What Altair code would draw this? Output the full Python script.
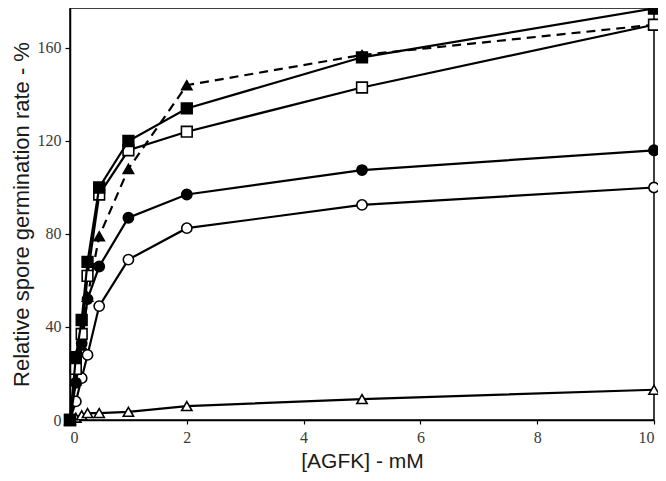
import altair as alt
import pandas as pd

# Concentrations (mM)
conc = [0, 0.1, 0.2, 0.3, 0.5, 1, 2, 5, 10]

# Relative spore germination rate (%) per series
filled_square = [0, 27, 43, 68, 100, 120, 134, 156, 177]
open_square = [0, 22, 37, 62, 97, 116, 124, 143, 170]
filled_triangle = [0, 17, 32, 53, 79, 108, 144, 157, 170]
filled_circle = [0, 16, 33, 52, 66, 87, 97, 107.5, 116]
open_circle = [0, 8, 18, 28, 49, 69, 82.5, 92.5, 100]
open_triangle = [0, 1, 2, 3, 3, 3.5, 6, 9, 13]

# drawing order: dashed series underneath
series = [
    ("filled_triangle", filled_triangle, "triangle-up", "black", [9, 6]),
    ("open_triangle", open_triangle, "triangle-up", "white", []),
    ("open_circle", open_circle, "circle", "white", []),
    ("filled_circle", filled_circle, "circle", "black", []),
    ("open_square", open_square, "square", "white", []),
    ("filled_square", filled_square, "square", "black", []),
]

xscale = alt.Scale(domain=[0, 10], nice=False, zero=False)
yscale = alt.Scale(domain=[0, 177.2], nice=False)

xaxis = alt.Axis(values=[0, 2, 4, 6, 8, 10], title="[AGFK] - mM", grid=False)
yaxis = alt.Axis(values=[0, 40, 80, 120, 160], title="Relative spore germination rate - %", grid=False)

layers = []
for name, vals, shape, fill, dash in series:
    df = pd.DataFrame({"x": conc, "y": vals})
    base = alt.Chart(df).encode(
        x=alt.X("x:Q", scale=xscale, axis=xaxis),
        y=alt.Y("y:Q", scale=yscale, axis=yaxis),
    )
    line_kwargs = dict(color="black", strokeWidth=2.2)
    if dash:
        line_kwargs["strokeDash"] = dash
    layers.append(base.mark_line(**line_kwargs))
    size = 115 if shape == "square" else 105
    layers.append(
        base.mark_point(shape=shape, filled=True, fill=fill, stroke="black",
                        strokeWidth=1.6, size=size, opacity=1)
    )

chart = alt.layer(*layers).properties(
    width=584,
    height=412,
    autosize=alt.AutoSizeParams(type="none"),
    padding={"left": 62, "top": 0, "right": 4, "bottom": 53},
).configure_view(
    stroke="black", strokeWidth=1.5
).configure_axis(
    domainColor="black",
    domainWidth=1.5,
    tickColor="black",
    tickWidth=1.2,
    labelFont="Liberation Serif",
    labelFontSize=16,
    labelColor="#3a3a3a",
    titleFont="Liberation Sans",
    titleFontWeight="normal",
    titleColor="#1a1a1a",
).configure_axisY(
    tickSize=5,
    titleFontSize=22,
    titlePadding=4,
    labelPadding=4,
).configure_axisX(
    tickSize=4,
    titleFontSize=21,
    titlePadding=5,
    labelPadding=5,
)

chart.save("out.html", embed_options={"renderer": "svg", "actions": False})
